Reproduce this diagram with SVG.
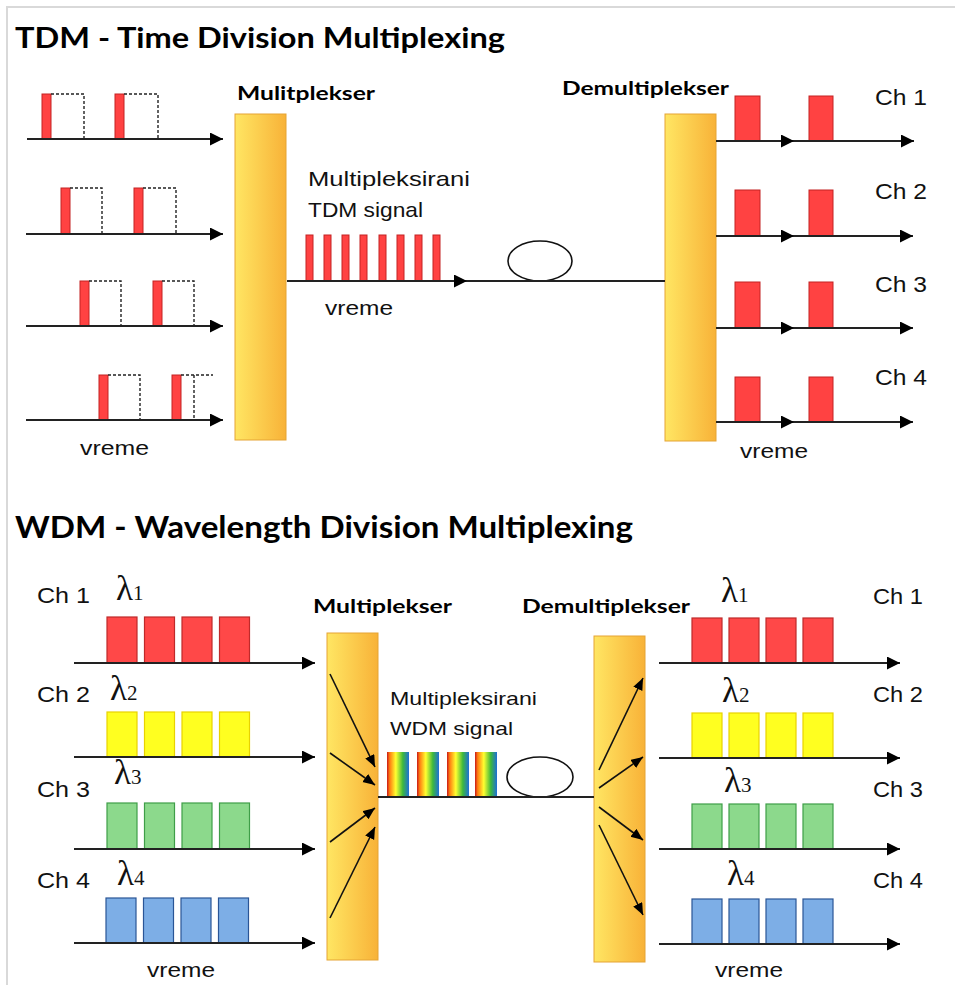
<svg xmlns="http://www.w3.org/2000/svg" width="955" height="985" viewBox="0 0 955 985">
<style>
.title{font-family:"Lato","Liberation Sans",sans-serif;font-weight:bold;fill:#000}
.lbl{font-family:"Lato","Liberation Sans",sans-serif;font-weight:bold;font-size:19px;fill:#000}
.txt{font-family:"Liberation Sans","DejaVu Sans",sans-serif;fill:#111}
.ch{font-family:"Liberation Sans","DejaVu Sans",sans-serif;font-size:22px;fill:#111}
.lam{font-family:"Liberation Serif","DejaVu Serif",serif;font-size:35px;fill:#111}
.sub{font-size:21px}
.ax{stroke:#222;stroke-width:1.8;fill:none}
.axa{stroke:#222;stroke-width:1.8;fill:none;marker-end:url(#arr)}
.ina{stroke:#111;stroke-width:1.6;fill:none;marker-end:url(#arrs)}
.dash{stroke:#222;stroke-width:1.4;fill:none;stroke-dasharray:3 2}
.pulse{fill:#FF4242;stroke:#C42222;stroke-width:1}
.bar{fill:url(#barg);stroke:#E5A435;stroke-width:1}
.r{fill:#FF4848;stroke:#BF2A2A;stroke-width:1.2}
.y{fill:#FFFF20;stroke:#E8D200;stroke-width:1.2}
.g{fill:#8CD98C;stroke:#3F9E48;stroke-width:1.2}
.b{fill:#7DAEE6;stroke:#2A5596;stroke-width:1.2}
.rb{fill:url(#rain)}
</style>
<defs>
<marker id="arr" markerUnits="userSpaceOnUse" markerWidth="14" markerHeight="14" refX="13" refY="6.5" orient="auto">
<path d="M0,0 L13,6.5 L0,13 z" fill="#000"/>
</marker>
<marker id="arrs" markerUnits="userSpaceOnUse" markerWidth="13" markerHeight="11" refX="12" refY="5" orient="auto">
<path d="M0,0 L12,5 L0,10 z" fill="#000"/>
</marker>
<linearGradient id="barg" x1="0" y1="0" x2="1" y2="0">
<stop offset="0" stop-color="#FFE663"/>
<stop offset="1" stop-color="#F8B238"/>
</linearGradient>
<linearGradient id="rain" x1="0" y1="0" x2="1" y2="0">
<stop offset="0" stop-color="#C81818"/>
<stop offset="0.12" stop-color="#FF7A10"/>
<stop offset="0.4" stop-color="#FFFF30"/>
<stop offset="0.72" stop-color="#3CB83C"/>
<stop offset="1" stop-color="#1E6FD8"/>
</linearGradient>
</defs>
<rect x="0" y="0" width="955" height="985" fill="#fff"/>
<path d="M7,985 V7 H955" stroke="#d9d9d9" stroke-width="2" fill="none"/>

<g id="tdm-title"><text class="title" x="15" y="48" font-size="28" textLength="490" lengthAdjust="spacingAndGlyphs">TDM - Time Division Multiplexing</text></g>
<g id="wdm-title"><text class="title" x="15" y="538" font-size="30" textLength="618" lengthAdjust="spacingAndGlyphs">WDM - Wavelength Division Multiplexing</text></g>

<!-- TDM inputs -->
<g id="tdm-in-1">
<rect class="pulse" x="42" y="94" width="9" height="45"/><rect class="pulse" x="115" y="94" width="9" height="45"/>
<path class="dash" d="M51,94 H84 V139 M124,94 H158 V139"/>
</g>
<g id="tdm-in-2">
<rect class="pulse" x="61" y="188" width="9" height="46"/><rect class="pulse" x="134" y="188" width="9" height="46"/>
<path class="dash" d="M70,188 H102 V234 M143,188 H176 V234"/>
</g>
<g id="tdm-in-3">
<rect class="pulse" x="80" y="281" width="9" height="45"/><rect class="pulse" x="153" y="281" width="9" height="45"/>
<path class="dash" d="M89,281 H121 V326 M162,281 H194 V326"/>
</g>
<g id="tdm-in-4">
<rect class="pulse" x="99" y="375" width="9" height="45"/><rect class="pulse" x="172" y="375" width="9" height="45"/>
<path class="dash" d="M108,375 H140 V420 M181,375 H213 M194,375 V420"/>
</g>
<g id="tdm-in-label"><text class="txt" x="80" y="455" font-size="20" textLength="69" lengthAdjust="spacingAndGlyphs">vreme</text></g>

<!-- TDM mux -->
<g id="tdm-mux">
<rect class="bar" x="235" y="114" width="51" height="326"/>
<text class="lbl" x="237" y="100" textLength="138" lengthAdjust="spacingAndGlyphs">Mulitplekser</text>
</g>
<g id="tdm-signal">
<text class="txt" x="308" y="186" font-size="21" textLength="162" lengthAdjust="spacingAndGlyphs">Multipleksirani</text>
<text class="txt" x="308" y="217" font-size="21" textLength="115" lengthAdjust="spacingAndGlyphs">TDM signal</text>
<rect class="pulse" x="306" y="235" width="7" height="46"/>
<rect class="pulse" x="324" y="235" width="7" height="46"/>
<rect class="pulse" x="342" y="235" width="7" height="46"/>
<rect class="pulse" x="360" y="235" width="7" height="46"/>
<rect class="pulse" x="379" y="235" width="7" height="46"/>
<rect class="pulse" x="397" y="235" width="7" height="46"/>
<rect class="pulse" x="415" y="235" width="7" height="46"/>
<rect class="pulse" x="433" y="235" width="7" height="46"/>
<text class="txt" x="325" y="315" font-size="20" textLength="68" lengthAdjust="spacingAndGlyphs">vreme</text>
</g>
<g id="tdm-fiber-loop"><ellipse cx="540" cy="261" rx="32" ry="20" fill="none" stroke="#111" stroke-width="1.6"/></g>

<!-- TDM demux -->
<g id="tdm-demux">
<rect class="bar" x="665" y="114" width="51" height="327"/>
<text class="lbl" x="562" y="95" textLength="167" lengthAdjust="spacingAndGlyphs">Demultiplekser</text>
</g>
<g id="tdm-out-1"><rect class="pulse" x="735" y="96" width="25" height="45"/><rect class="pulse" x="809" y="96" width="24" height="45"/><text class="ch" x="875" y="105" textLength="52" lengthAdjust="spacingAndGlyphs">Ch 1</text></g>
<g id="tdm-out-2"><rect class="pulse" x="735" y="190" width="25" height="46"/><rect class="pulse" x="809" y="190" width="24" height="46"/><text class="ch" x="875" y="199" textLength="52" lengthAdjust="spacingAndGlyphs">Ch 2</text></g>
<g id="tdm-out-3"><rect class="pulse" x="735" y="282" width="25" height="46"/><rect class="pulse" x="809" y="282" width="24" height="46"/><text class="ch" x="875" y="292" textLength="52" lengthAdjust="spacingAndGlyphs">Ch 3</text></g>
<g id="tdm-out-4"><rect class="pulse" x="735" y="377" width="25" height="45"/><rect class="pulse" x="809" y="377" width="24" height="45"/><text class="ch" x="875" y="385" textLength="52" lengthAdjust="spacingAndGlyphs">Ch 4</text></g>
<g id="tdm-out-label"><text class="txt" x="740" y="458" font-size="20" textLength="68" lengthAdjust="spacingAndGlyphs">vreme</text></g>

<!-- WDM inputs -->
<g id="wdm-in-1">
<text class="ch" x="37" y="603" font-size="21" textLength="53" lengthAdjust="spacingAndGlyphs">Ch 1</text>
<text class="lam" x="116" y="600">λ<tspan class="sub">1</tspan></text>
<rect class="r" x="107" y="617" width="30" height="46"/><rect class="r" x="144.5" y="617" width="30" height="46"/><rect class="r" x="182" y="617" width="30" height="46"/><rect class="r" x="219.5" y="617" width="30" height="46"/>
</g>
<g id="wdm-in-2">
<text class="ch" x="37" y="702" font-size="21" textLength="53" lengthAdjust="spacingAndGlyphs">Ch 2</text>
<text class="lam" x="110" y="700">λ<tspan class="sub">2</tspan></text>
<rect class="y" x="107" y="712" width="30" height="45"/><rect class="y" x="144.5" y="712" width="30" height="45"/><rect class="y" x="182" y="712" width="30" height="45"/><rect class="y" x="219.5" y="712" width="30" height="45"/>
</g>
<g id="wdm-in-3">
<text class="ch" x="37" y="797" font-size="21" textLength="53" lengthAdjust="spacingAndGlyphs">Ch 3</text>
<text class="lam" x="114" y="784">λ<tspan class="sub">3</tspan></text>
<rect class="g" x="107" y="803" width="30" height="46"/><rect class="g" x="144.5" y="803" width="30" height="46"/><rect class="g" x="182" y="803" width="30" height="46"/><rect class="g" x="219.5" y="803" width="30" height="46"/>
</g>
<g id="wdm-in-4">
<text class="ch" x="37" y="888" font-size="21" textLength="53" lengthAdjust="spacingAndGlyphs">Ch 4</text>
<text class="lam" x="117" y="885">λ<tspan class="sub">4</tspan></text>
<rect class="b" x="106" y="898" width="30" height="45"/><rect class="b" x="143.5" y="898" width="30" height="45"/><rect class="b" x="181" y="898" width="30" height="45"/><rect class="b" x="218.5" y="898" width="30" height="45"/>
</g>
<g id="wdm-in-label"><text class="txt" x="147" y="977" font-size="20" textLength="68" lengthAdjust="spacingAndGlyphs">vreme</text></g>

<!-- WDM mux -->
<g id="wdm-mux">
<rect class="bar" x="327" y="633" width="51" height="327"/>
<text class="lbl" x="313" y="613" textLength="139" lengthAdjust="spacingAndGlyphs">Multiplekser</text>
</g>
<g id="wdm-signal">
<text class="txt" x="390" y="705" font-size="19" textLength="147" lengthAdjust="spacingAndGlyphs">Multipleksirani</text>
<text class="txt" x="390" y="735" font-size="19" textLength="123" lengthAdjust="spacingAndGlyphs">WDM signal</text>
<rect class="rb" x="387" y="752" width="22" height="45"/>
<rect class="rb" x="417" y="752" width="22" height="45"/>
<rect class="rb" x="447" y="752" width="22" height="45"/>
<rect class="rb" x="475" y="752" width="22" height="45"/>
</g>
<g id="wdm-fiber-loop"><ellipse cx="540" cy="777" rx="33" ry="20" fill="none" stroke="#111" stroke-width="1.6"/></g>

<!-- WDM demux -->
<g id="wdm-demux">
<rect class="bar" x="594" y="636" width="51" height="326"/>
<text class="lbl" x="522" y="613" textLength="168" lengthAdjust="spacingAndGlyphs">Demultiplekser</text>
</g>
<g id="wdm-out-1">
<text class="lam" x="721" y="602">λ<tspan class="sub">1</tspan></text>
<text class="ch" x="873" y="604" textLength="50" lengthAdjust="spacingAndGlyphs">Ch 1</text>
<rect class="r" x="692" y="618" width="30" height="45"/><rect class="r" x="729" y="618" width="30" height="45"/><rect class="r" x="766" y="618" width="30" height="45"/><rect class="r" x="803" y="618" width="30" height="45"/>
</g>
<g id="wdm-out-2">
<text class="lam" x="722" y="702">λ<tspan class="sub">2</tspan></text>
<text class="ch" x="873" y="702" textLength="50" lengthAdjust="spacingAndGlyphs">Ch 2</text>
<rect class="y" x="692" y="713" width="30" height="45"/><rect class="y" x="729" y="713" width="30" height="45"/><rect class="y" x="766" y="713" width="30" height="45"/><rect class="y" x="803" y="713" width="30" height="45"/>
</g>
<g id="wdm-out-3">
<text class="lam" x="724" y="792">λ<tspan class="sub">3</tspan></text>
<text class="ch" x="873" y="797" textLength="50" lengthAdjust="spacingAndGlyphs">Ch 3</text>
<rect class="g" x="692" y="804" width="30" height="45"/><rect class="g" x="729" y="804" width="30" height="45"/><rect class="g" x="766" y="804" width="30" height="45"/><rect class="g" x="803" y="804" width="30" height="45"/>
</g>
<g id="wdm-out-4">
<text class="lam" x="727" y="885">λ<tspan class="sub">4</tspan></text>
<text class="ch" x="873" y="888" textLength="50" lengthAdjust="spacingAndGlyphs">Ch 4</text>
<rect class="b" x="692" y="899" width="30" height="45"/><rect class="b" x="729" y="899" width="30" height="45"/><rect class="b" x="766" y="899" width="30" height="45"/><rect class="b" x="803" y="899" width="30" height="45"/>
</g>
<g id="wdm-out-label"><text class="txt" x="715" y="977" font-size="20" textLength="68" lengthAdjust="spacingAndGlyphs">vreme</text></g>

<g id="connectors">
<!-- TDM inputs -->
<path class="axa" d="M27,139 H223"/>
<path class="axa" d="M26,234 H223"/>
<path class="axa" d="M26,326 H223"/>
<path class="axa" d="M26,420 H223"/>
<!-- TDM trunk -->
<path class="axa" d="M287,281 H467"/>
<path class="ax" d="M467,281 H665"/>
<!-- TDM outputs -->
<path class="axa" d="M716,141 H794"/><path class="axa" d="M794,141 H914"/>
<path class="axa" d="M716,236 H794"/><path class="axa" d="M794,236 H913"/>
<path class="axa" d="M716,328 H794"/><path class="axa" d="M794,328 H913"/>
<path class="axa" d="M716,422 H794"/><path class="axa" d="M794,422 H913"/>
<!-- WDM inputs -->
<path class="axa" d="M74,663 H315"/>
<path class="axa" d="M74,757 H315"/>
<path class="axa" d="M74,849 H315"/>
<path class="axa" d="M74,943 H315"/>
<!-- WDM mux internal -->
<path class="ina" d="M330,674 L375,767"/>
<path class="ina" d="M330,753 L375,785"/>
<path class="ina" d="M330,842 L375,808"/>
<path class="ina" d="M330,918 L375,827"/>
<!-- WDM trunk -->
<path class="ax" d="M378,797 H594" stroke-width="1.4"/>
<!-- WDM demux internal -->
<path class="ina" d="M599,770 L643,678"/>
<path class="ina" d="M599,788 L643,757"/>
<path class="ina" d="M599,807 L643,840"/>
<path class="ina" d="M599,825 L643,915"/>
<!-- WDM outputs -->
<path class="axa" d="M659,663 H900"/>
<path class="axa" d="M659,758 H900"/>
<path class="axa" d="M659,849 H900"/>
<path class="axa" d="M659,944 H900"/>
</g>
</svg>
